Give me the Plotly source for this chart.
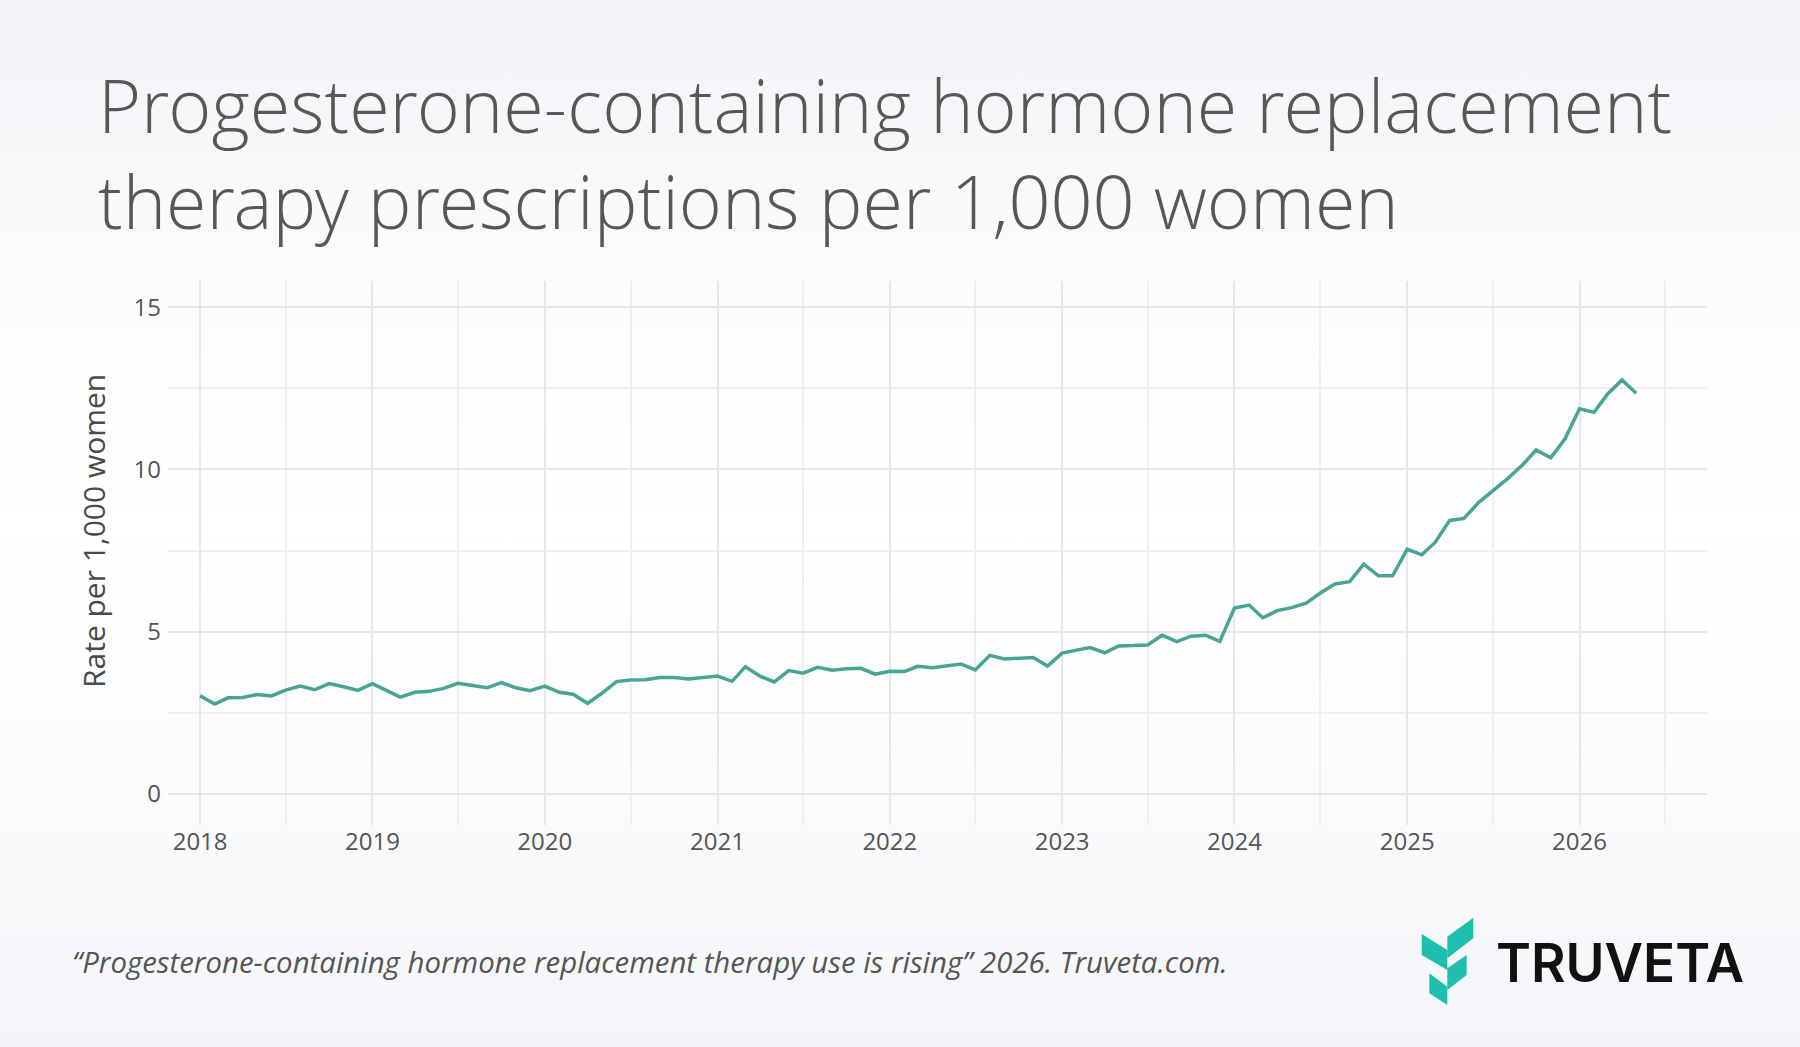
import base64
import pandas as pd
import plotly.graph_objects as go

# ---------------- data ----------------
start_month = "2018-01-01"
rate_2018 = [3.02, 2.77, 2.96, 2.97, 3.06, 3.02, 3.20, 3.32, 3.21, 3.40, 3.30, 3.19]
rate_2019 = [3.40, 3.19, 2.98, 3.13, 3.16, 3.25, 3.41, 3.34, 3.27, 3.43, 3.27, 3.18]
rate_2020 = [3.32, 3.13, 3.07, 2.79, 3.10, 3.46, 3.51, 3.52, 3.59, 3.59, 3.54, 3.59]
rate_2021 = [3.63, 3.47, 3.92, 3.63, 3.45, 3.80, 3.72, 3.90, 3.81, 3.86, 3.87, 3.69]
rate_2022 = [3.78, 3.77, 3.93, 3.89, 3.94, 4.00, 3.82, 4.27, 4.16, 4.17, 4.20, 3.94]
rate_2023 = [4.34, 4.43, 4.51, 4.35, 4.56, 4.57, 4.59, 4.89, 4.69, 4.86, 4.89, 4.70]
rate_2024 = [5.73, 5.82, 5.43, 5.65, 5.74, 5.88, 6.19, 6.47, 6.54, 7.08, 6.72, 6.72]
rate_2025 = [7.54, 7.37, 7.75, 8.43, 8.49, 8.98, 9.34, 9.71, 10.12, 10.60, 10.36, 10.94]
rate_2026 = [11.87, 11.76, 12.32, 12.76, 12.35]

rates = (rate_2018 + rate_2019 + rate_2020 + rate_2021 + rate_2022
         + rate_2023 + rate_2024 + rate_2025 + rate_2026)
months = pd.date_range(start_month, periods=len(rates), freq="MS")

title_lines = ["Progesterone-containing hormone replacement",
               "therapy prescriptions per 1,000 women"]
y_title = "Rate per 1,000 women"
source_text = "\u201cProgesterone-containing hormone replacement therapy use is rising\u201d 2026. Truveta.com."
brand = "TRUVETA"

# ---------------- layout geometry (pixels) ----------------
W, H = 1800, 1047
L, R, T, B = 168, 1707, 281, 825
PW, PH = R - L, B - T


def px(x):
    return (x - L) / PW


def py(y):
    return (B - y) / PH


fig = go.Figure()
fig.add_trace(go.Scatter(
    x=months, y=rates, mode="lines",
    line=dict(color="#48a592", width=3.5),
    hoverinfo="x+y", showlegend=False,
))

# background gradient
svg = (
    '<svg xmlns="http://www.w3.org/2000/svg" width="1800" height="1047" preserveAspectRatio="none">'
    '<defs><linearGradient id="g" x1="0" y1="0" x2="0" y2="1">'
    '<stop offset="0" stop-color="#f1f3f6"/>'
    '<stop offset="0.28" stop-color="#fbfcfd"/>'
    '<stop offset="0.5" stop-color="#ffffff"/>'
    '<stop offset="0.72" stop-color="#fbfcfd"/>'
    '<stop offset="1" stop-color="#f3f5f8"/>'
    '</linearGradient></defs>'
    '<rect x="0" y="0" width="1800" height="1047" fill="url(#g)"/></svg>'
)
bg_uri = "data:image/svg+xml;base64," + base64.b64encode(svg.encode()).decode()

# logo icon (decorative parallelograms)
icon_polys = [
    [(1421.7, 934), (1447.3, 950), (1447.3, 970), (1421.7, 955)],
    [(1447.3, 936.7), (1473.3, 917.7), (1473.3, 938.3), (1447.3, 958.3)],
    [(1447.3, 968.3), (1466.7, 955), (1466.7, 975), (1447.3, 990)],
    [(1429.3, 973.3), (1447.3, 986.7), (1447.3, 1005), (1429.3, 993.3)],
]
shapes = []
for poly in icon_polys:
    path = "M " + " L ".join(f"{px(a):.5f},{py(b):.5f}" for a, b in poly) + " Z"
    shapes.append(dict(type="path", xref="paper", yref="paper", path=path,
                       fillcolor="#1fbfb0", line=dict(width=0), layer="above"))

title_font = dict(family="Open Sans Light, Open Sans", size=73.6, color="#575757", weight=300)
annotations = [
    dict(text="<br>".join(title_lines), x=px(96), y=py(152), xref="paper", yref="paper",
         xanchor="left", yanchor="middle", align="left", showarrow=False, font=title_font),
    dict(text=y_title, x=px(93), y=py(531), xref="paper", yref="paper",
         xanchor="center", yanchor="middle", textangle=-90, showarrow=False,
         font=dict(family="Open Sans", size=30, color="#4a4a4a")),
    dict(text=source_text, x=px(70), y=py(962), xref="paper", yref="paper",
         xanchor="left", yanchor="middle", showarrow=False,
         font=dict(family="Open Sans", size=29.4, color="#555555", style="italic")),
    dict(text=brand, x=px(1494), y=py(963), xref="paper", yref="paper",
         xanchor="left", yanchor="middle", showarrow=False,
         font=dict(family="Inter", size=53, color="#111111", weight=600)),
]

fig.update_layout(
    width=W, height=H,
    margin=dict(l=L, r=W - R, t=T, b=H - B, autoexpand=False),
    paper_bgcolor="rgba(0,0,0,0)",
    plot_bgcolor="rgba(0,0,0,0)",
    images=[dict(source=bg_uri, xref="paper", yref="paper", x=px(0), y=py(0),
                 sizex=W / PW, sizey=H / PH, xanchor="left", yanchor="top",
                 sizing="stretch", layer="below")],
    shapes=shapes,
    annotations=annotations,
    font=dict(family="Open Sans", color="#555555"),
)

fig.update_xaxes(
    range=["2017-10-25", "2026-09-28"],
    tick0="2018-01-01", dtick="M12", tickformat="%Y",
    showgrid=True, gridcolor="#e7e7ea", gridwidth=1.5,
    minor=dict(dtick="M6", showgrid=True, gridcolor="#efeff1", gridwidth=1.5),
    zeroline=False, showline=False, ticks="",
    tickfont=dict(family="Open Sans", size=24, color="#555555"),
)
fig.update_yaxes(
    range=[-0.96, 15.81],
    tick0=0, dtick=5,
    showgrid=True, gridcolor="#e7e7ea", gridwidth=1.5,
    minor=dict(dtick=2.5, showgrid=True, gridcolor="#efeff1", gridwidth=1.5),
    zeroline=False, showline=False, ticks="",
    ticklabelstandoff=6,
    tickfont=dict(family="Open Sans", size=24, color="#555555"),
)

fig.write_html("out.html")
